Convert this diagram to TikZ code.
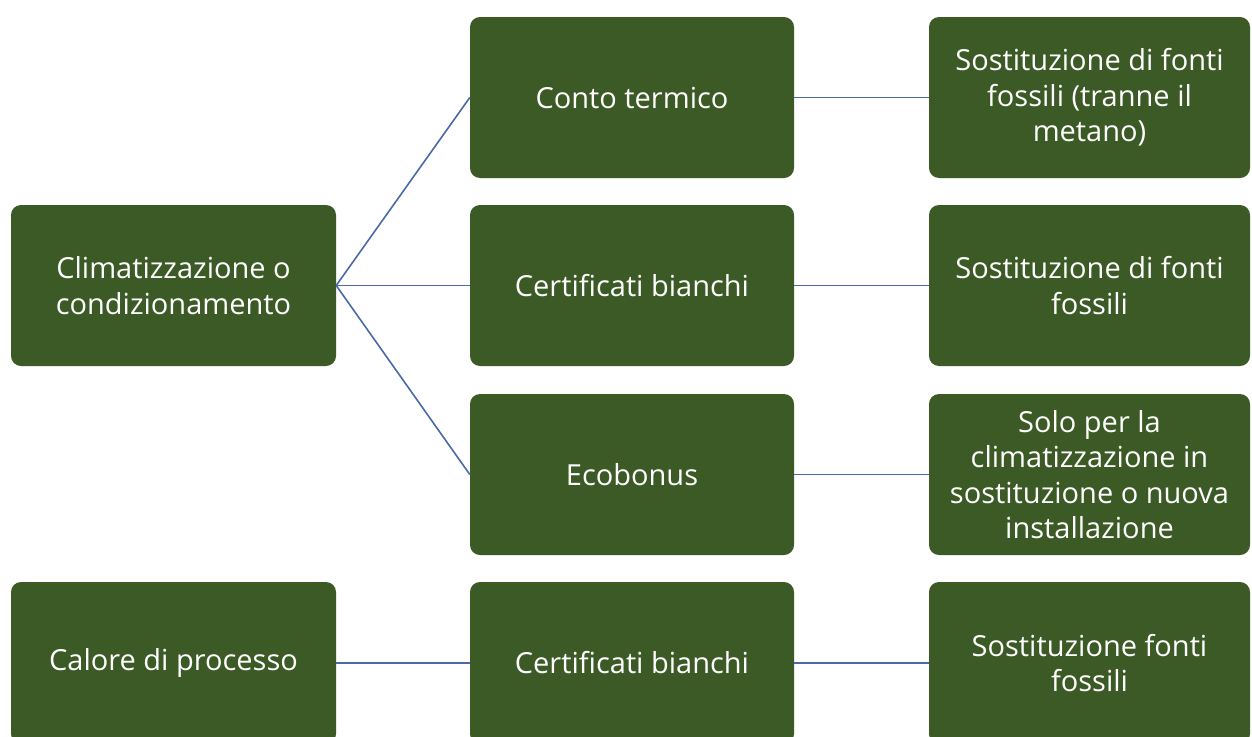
\documentclass[tikz,border=0pt]{standalone}
\usepackage{fontspec}
\setmainfont{Open Sans}
\definecolor{boxgreen}{HTML}{3C5A25}
\definecolor{linkblue}{HTML}{4A69A6}
\begin{document}
\begin{tikzpicture}[x=1pt,y=-1pt,
  gbox/.style={rectangle,rounded corners=10pt,fill=boxgreen,draw=none,
    text=white,align=center,inner sep=0pt,
    font=\fontsize{29}{35.5}\selectfont},
  colL/.style={gbox,minimum width=325pt,minimum height=161pt},
  colM/.style={gbox,minimum width=324pt,minimum height=161pt},
  colR/.style={gbox,minimum width=321pt,minimum height=161pt},
  link/.style={draw=linkblue,line width=1.6pt}]
\useasboundingbox (0,0) rectangle (1252,736);
\clip (0,0) rectangle (1252,736);
% left column
\node[colL] (clim) at (173.5,285.5) {Climatizzazione o\\condizionamento};
\node[colL,minimum height=162pt] (calore) at (173.5,663) {Calore di processo};
% middle column
\node[colM] (conto) at (632,97.5) {Conto termico};
\node[colM] (cert1) at (632,285.5) {Certificati bianchi};
\node[colM] (eco) at (632,474.5) {Ecobonus};
\node[colM,minimum height=162pt] (cert2) at (632,663) {Certificati bianchi};
% right column
\node[colR] (r1) at (1089.5,97.5) {Sostituzione di fonti\\fossili (tranne il\\metano)};
\node[colR] (r2) at (1089.5,285.5) {Sostituzione di fonti\\fossili};
\node[colR] (r3) at (1089.5,474.5) {Solo per la\\climatizzazione in\\sostituzione o nuova\\installazione};
\node[colR,minimum height=162pt] (r4) at (1089.5,663) {Sostituzione fonti\\fossili};
% connectors
\draw[link] (clim.east) -- (conto.west);
\draw[link] (clim.east) -- (cert1.west);
\draw[link] (clim.east) -- (eco.west);
\draw[link] (calore.east) -- (cert2.west);
\draw[link] (conto.east) -- (r1.west);
\draw[link] (cert1.east) -- (r2.west);
\draw[link] (eco.east) -- (r3.west);
\draw[link] (cert2.east) -- (r4.west);
\end{tikzpicture}
\end{document}
